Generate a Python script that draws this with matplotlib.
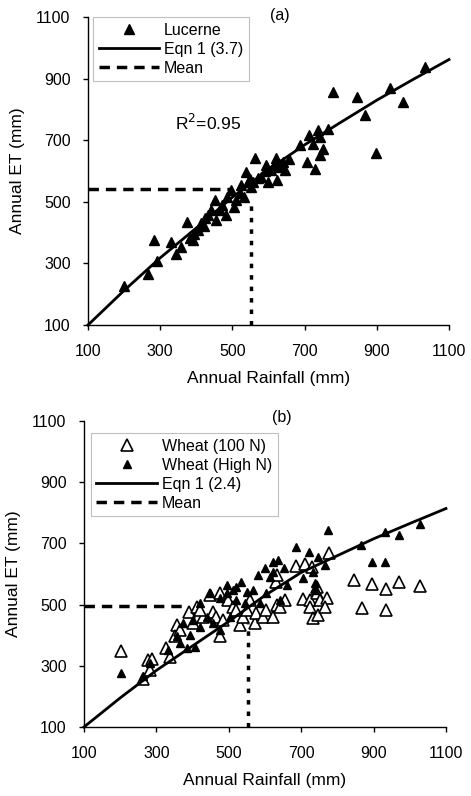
import matplotlib.pyplot as plt
import numpy as np

plt.rcParams['font.family'] = ['Liberation Sans', 'DejaVu Sans']
plt.rcParams['font.size'] = 11.5

# panel (a) lucerne
luc_rain = [200, 266, 282, 291, 329, 345, 358, 374, 382, 391, 405, 414, 423, 432, 442,
            451, 455, 465, 481, 485, 497, 504, 511, 525, 531, 537, 543, 552, 562, 557,
            571, 580, 594, 599, 608, 622, 626, 636, 624, 645, 657, 686, 707, 711, 723,
            729, 737, 742, 744, 751, 765, 779, 846, 866, 897, 936, 973, 1033,
            470, 520, 548, 590, 615, 640, 420, 395]
luc_et = [228, 265, 376, 307, 370, 332, 354, 435, 381, 376, 408, 430, 446, 457, 473,
          505, 441, 473, 457, 516, 538, 484, 505, 554, 516, 597, 565, 549, 641, 565,
          576, 581, 619, 565, 603, 641, 614, 624, 570, 603, 638, 684, 630, 716, 689,
          608, 732, 711, 651, 673, 738, 857, 841, 781, 657, 868, 824, 938,
          490, 530, 575, 600, 620, 630, 420, 395]

eqn_a_x = [100, 200, 300, 400, 500, 600, 700, 800, 900, 1000, 1100]
eqn_a_y = [100, 212, 318, 415, 515, 605, 685, 758, 830, 897, 962]
mean_a = (552, 543)
mean_a_ends = (492, 489)

# panel (b) wheat
hn_rain = [201, 262, 494, 687, 722, 775, 747, 766, 706, 733, 739, 737, 864, 931, 970,
           1028, 896, 931, 635, 621, 600, 580, 652, 623, 614, 535, 521, 512, 567, 549,
           494, 475, 447, 420, 407, 384, 374, 365, 402, 439, 457, 475, 333, 282, 356,
           586, 641, 660, 545, 503, 420, 393, 521, 604]
hn_et = [276, 265, 564, 689, 673, 743, 657, 629, 586, 607, 570, 549, 695, 738, 729,
         763, 638, 638, 645, 640, 618, 597, 618, 607, 590, 575, 559, 548, 548, 542,
         537, 521, 537, 504, 363, 358, 439, 374, 450, 460, 439, 417, 352, 309, 396,
         504, 515, 564, 504, 460, 428, 401, 515, 537]

ln_rain = [201, 262, 278, 287, 282, 327, 356, 351, 390, 365, 402, 411, 429, 447, 457,
           466, 475, 484, 498, 512, 521, 530, 539, 549, 558, 572, 576, 595, 604, 623,
           632, 641, 654, 630, 632, 687, 710, 729, 776, 704, 725, 725, 733, 747, 743,
           743, 752, 770, 766, 846, 895, 933, 970, 1028, 867, 933, 475, 420, 337]
ln_et = [349, 257, 320, 322, 287, 358, 434, 396, 477, 417, 439, 493, 461, 531, 477,
         461, 396, 450, 515, 493, 483, 434, 461, 483, 515, 439, 472, 461, 483, 461,
         499, 493, 515, 575, 597, 626, 633, 624, 667, 518, 515, 493, 455, 466, 559,
         537, 515, 520, 493, 580, 567, 551, 575, 562, 488, 483, 537, 483, 330]

eqn_b_x = [100, 200, 300, 400, 500, 600, 700, 800, 900, 1000, 1100]
eqn_b_y = [100, 195, 285, 365, 445, 530, 605, 660, 715, 765, 814]
mean_b = (552, 496)
mean_b_ends = (374, 439)

ticks = [100, 300, 500, 700, 900, 1100]

fig = plt.figure(figsize=(4.71, 7.96), dpi=100)
ax1 = fig.add_axes([0.1868, 0.5917, 0.7665, 0.3869])
ax2 = fig.add_axes([0.1783, 0.0867, 0.7686, 0.3844])


def style(ax):
    ax.set_xlim(100, 1100)
    ax.set_ylim(100, 1100)
    ax.set_xticks(ticks)
    ax.set_yticks(ticks)
    ax.spines['top'].set_visible(False)
    ax.spines['right'].set_visible(False)
    ax.tick_params(direction='out', length=3.5, width=1, labelsize=11.5)
    ax.tick_params(axis='x', pad=10)
    ax.tick_params(axis='y', pad=9)
    ax.set_xlabel('Annual Rainfall (mm)', labelpad=9, fontsize=12.5)
    ax.set_ylabel('Annual ET (mm)', labelpad=8, fontsize=12.5)
    for s in ['left', 'bottom']:
        ax.spines[s].set_linewidth(1)


def legend(ax, anchor):
    leg = ax.legend(loc='upper left', bbox_to_anchor=anchor, handlelength=3.8,
                    handletextpad=0.3, labelspacing=0.25, borderaxespad=0, fancybox=False,
                    edgecolor='#b0b0b0', numpoints=1, borderpad=0.35)
    leg.get_frame().set_linewidth(0.8)


# (a)
ax1.plot(luc_rain, luc_et, '^', color='black', ms=7.5, label='Lucerne', clip_on=False)
ax1.plot(eqn_a_x, eqn_a_y, '-', color='black', lw=2, label='Eqn 1 (3.7)', clip_on=False)
ax1.plot([100, mean_a_ends[0]], [mean_a[1], mean_a[1]], color='black', lw=2.5,
         ls=(0, (3, 2)), label='Mean')
ax1.plot([mean_a[0], mean_a[0]], [100, mean_a_ends[1]], color='black', lw=2.5,
         ls=(0, (1.3, 2)))
style(ax1)
ax1.text(0.241, 0.656, 'R$^2$=0.95', transform=ax1.transAxes, ha='left', va='center', fontsize=12.5)
ax1.text(0.532, 1.006, '(a)', transform=ax1.transAxes, ha='center', va='center', fontsize=11.5)
legend(ax1, (0.014, 1.0))

# (b)
ax2.plot(ln_rain, ln_et, '^', mfc='white', mec='black', mew=1.2, ms=8, label='Wheat (100 N)')
ax2.plot(hn_rain, hn_et, '^', color='black', ms=5.5, label='Wheat (High N)')
ax2.plot(eqn_b_x, eqn_b_y, '-', color='black', lw=2, label='Eqn 1 (2.4)', clip_on=False)
ax2.plot([100, mean_b_ends[0]], [mean_b[1], mean_b[1]], color='black', lw=2.5,
         ls=(0, (3, 2)), label='Mean')
ax2.plot([mean_b[0], mean_b[0]], [100, mean_b_ends[1]], color='black', lw=2.5,
         ls=(0, (1.3, 2)))
style(ax2)
ax2.text(0.547, 1.013, '(b)', transform=ax2.transAxes, ha='center', va='center', fontsize=11.5)
legend(ax2, (0.019, 0.961))

fig.savefig('out.png', dpi=100)
